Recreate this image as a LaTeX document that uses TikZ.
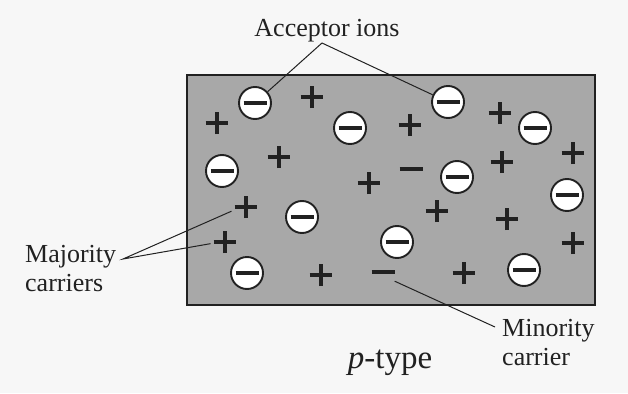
\documentclass[tikz,border=0pt]{standalone}
\usepackage{fontspec}
\setmainfont{Liberation Serif}
\usepackage{tikz}

\definecolor{paper}{gray}{0.97}
\definecolor{bulk}{gray}{0.66}
\definecolor{ink}{gray}{0.13}

\newcommand{\minussign}{\rule[-2pt]{23pt}{4pt}}
\newcommand{\plussign}{\rlap{\rule[-2pt]{22pt}{4pt}}\hspace{9pt}\rule[-11pt]{4pt}{22pt}\hspace{9pt}}

\tikzset{
  ion/.style={circle,draw=ink,line width=1.9pt,fill=white,minimum size=32pt,inner sep=0pt,text=ink},
  hole/.style={inner sep=0pt,outer sep=3pt,text=ink},
  elec/.style={inner sep=0pt,minimum height=18pt,text=ink},
  wire/.style={draw=ink,line width=1pt},
  caption/.style={inner sep=0pt,text=ink,font=\fontsize{26}{29}\selectfont}
}

\begin{document}
\begin{tikzpicture}[x=1pt,y=-1pt]
\useasboundingbox (0,0) rectangle (628,393);
% paper and crystal:
\path[fill=paper] (0,0) rectangle (628,393);
\path[draw=ink,line width=1.6pt,fill=bulk] (187,75) rectangle (595,305);
% acceptor ions:
\node[ion] (ion1) at (255,103) {\minussign};
\node[ion] (ion2) at (350,128) {\minussign};
\node[ion] (ion3) at (222,171) {\minussign};
\node[ion] (ion4) at (302,217) {\minussign};
\node[ion] (ion5) at (448,102) {\minussign};
\node[ion] (ion6) at (535,128) {\minussign};
\node[ion] (ion7) at (457,177) {\minussign};
\node[ion] (ion8) at (567,195) {\minussign};
\node[ion] (ion9) at (247,273) {\minussign};
\node[ion] (ion10) at (397,242) {\minussign};
\node[ion] (ion11) at (524,270) {\minussign};
% holes:
\node[hole] (hole1) at (307,97) {\plussign};
\node[hole] (hole2) at (212,123) {\plussign};
\node[hole] (hole3) at (274,157) {\plussign};
\node[hole] (hole4) at (241,207) {\plussign};
\node[hole] (hole5) at (364,183) {\plussign};
\node[hole] (hole6) at (405,125) {\plussign};
\node[hole] (hole7) at (495,113) {\plussign};
\node[hole] (hole8) at (497,162) {\plussign};
\node[hole] (hole9) at (568,153) {\plussign};
\node[hole] (hole10) at (432,211) {\plussign};
\node[hole] (hole11) at (502,219) {\plussign};
\node[hole] (hole12) at (220,242) {\plussign};
\node[hole] (hole13) at (316,275) {\plussign};
\node[hole] (hole14) at (459,273) {\plussign};
\node[hole] (hole15) at (568,243) {\plussign};
% electrons:
\node[elec] (elec1) at (411,169) {\minussign};
\node[elec] (elec2) at (383,272) {\minussign};
% labels:
\node[caption,anchor=base] (acclbl) at (327,37) {Acceptor ions};
\node[caption,anchor=north west,align=left] (majlbl) at (25,245) {Majority\\carriers};
\node[caption,anchor=north west,align=left] (minlbl) at (502,319) {Minority\\carrier};
\node[inner sep=0pt,text=ink,font=\fontsize{33}{36}\selectfont,anchor=base] (ptype) at (390,368) {\textit{p}-type};
\coordinate (accTip) at (322,43);
\coordinate (majTip) at (123,259);
\coordinate (minTip) at (495,327);
% leaders:
\draw[wire] (ion1) -- (accTip) -- (ion5);
\draw[wire] (hole4) -- (majTip) -- (hole12);
\draw[wire] (elec2.south east) -- (minTip);
\end{tikzpicture}
\end{document}
